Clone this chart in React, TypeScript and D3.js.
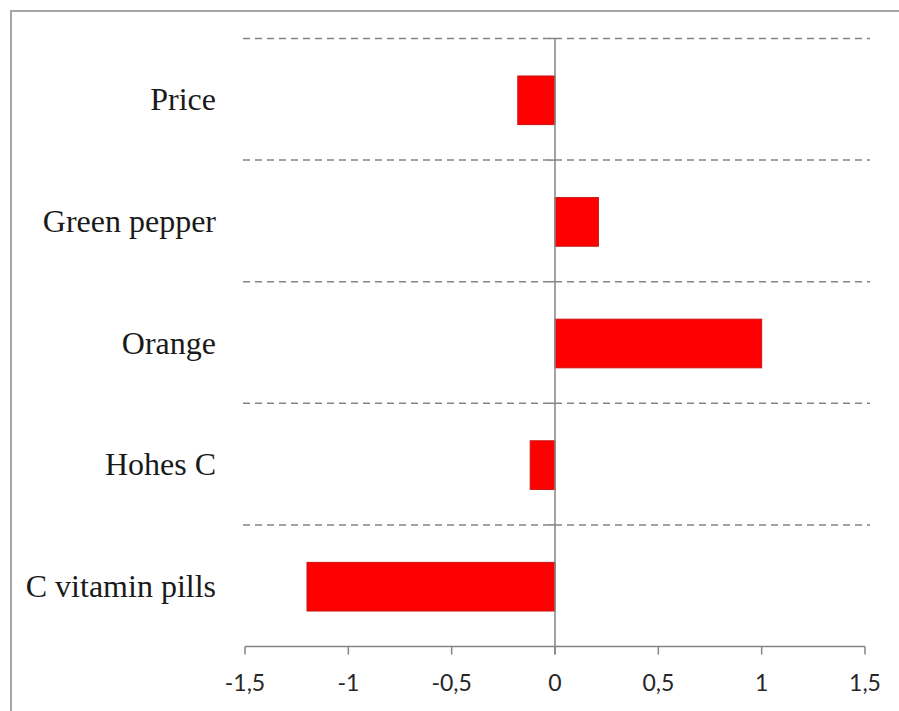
import React from "react";
import * as d3 from "d3";

const categories: string[] = ["Price", "Green pepper", "Orange", "Hohes C", "C vitamin pills"];
const values: number[] = [-0.18, 0.21, 1.0, -0.12, -1.2];
const tickValues: number[] = [-1.5, -1, -0.5, 0, 0.5, 1, 1.5];
const tickLabels: string[] = ["-1,5", "-1", "-0,5", "0", "0,5", "1", "1,5"];

export default function App() {
  const W = 899;
  const H = 711;
  const x = d3.scaleLinear().domain([-1.5, 1.5]).range([245, 865]);
  const band = d3.scaleBand<string>().domain(categories).range([38.5, 646.5]).paddingInner(0).paddingOuter(0);
  const barScale = d3.scaleBand<string>().domain(categories).range([39.5, 647.5]).paddingInner(0.6).paddingOuter(0.3);
  const axisY = 646.5;
  const x0 = x(0);
  const gridYs = categories.map((c) => band(c) as number);

  return (
    <svg
      width={W}
      height={H}
      style={{ position: "absolute", left: 0, top: 0, background: "#fff" }}
    >
      <rect x={0} y={0} width={W} height={H} fill="#fff" />
      <rect x={11} y={11} width={W + 20} height={H + 20} fill="none" stroke="#a6a6a6" strokeWidth={2} />
      {gridYs.map((gy, i) => (
        <line
          key={"g" + i}
          x1={243}
          x2={870}
          y1={gy}
          y2={gy}
          stroke="#858585"
          strokeWidth={1.5}
          strokeDasharray="7,5"
        />
      ))}
      {gridYs.map((gy, i) => (
        <line key={"vt" + i} x1={x0 - 6} x2={x0} y1={gy} y2={gy} stroke="#858585" strokeWidth={1.5} />
      ))}
      {categories.map((c, i) => {
        const v = values[i];
        const bx = Math.min(x(v), x0);
        const bw = Math.abs(x(v) - x0);
        return (
          <rect
            key={"b" + i}
            x={bx}
            y={barScale(c) as number}
            width={bw}
            height={barScale.bandwidth()}
            fill="#ff0000"
            stroke="#c81414"
            strokeWidth={1}
          />
        );
      })}
      <line x1={x0} x2={x0} y1={38} y2={axisY + 8} stroke="#858585" strokeWidth={1.5} />
      <line x1={x(-1.5)} x2={x(1.5)} y1={axisY} y2={axisY} stroke="#858585" strokeWidth={1.5} />
      {tickValues.map((t, i) => (
        <g key={"t" + i}>
          <line x1={x(t)} x2={x(t)} y1={axisY} y2={axisY + 8} stroke="#858585" strokeWidth={1.5} />
          <text
            x={x(t)}
            y={691}
            textAnchor="middle"
            fontFamily="Lato, 'Open Sans', sans-serif"
            fontSize={23}
            fill="#262626"
          >
            {tickLabels[i]}
          </text>
        </g>
      ))}
      {categories.map((c, i) => (
        <text
          key={"l" + i}
          x={216}
          y={(band(c) as number) + band.bandwidth() / 2 + 11}
          textAnchor="end"
          fontFamily="'Liberation Serif', 'Times New Roman', serif"
          fontSize={32}
          fill="#1a1a1a"
        >
          {c}
        </text>
      ))}
    </svg>
  );
}
